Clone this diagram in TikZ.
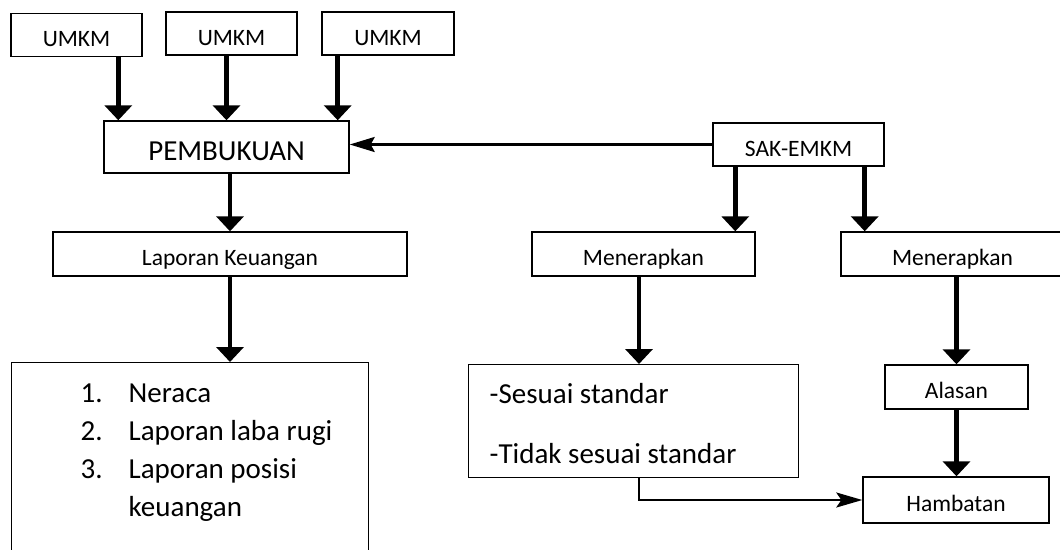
\documentclass[tikz,border=0pt]{standalone}
\usepackage{fontspec}
\setmainfont{Carlito}
\usetikzlibrary{arrows.meta}
\newcommand{\fkecil}{\fontsize{23.5pt}{28pt}\selectfont}
\newcommand{\fbesar}{\fontsize{29pt}{38pt}\selectfont}
\tikzset{
  kotak/.style={draw, line width=1.4pt, inner sep=0pt, font=\fkecil, text height=33pt, text depth=11pt},
  umkm/.style={kotak, minimum width=131pt, text depth=10pt},
  terap/.style={kotak, minimum width=223pt},
  panah/.style={-{Triangle[width=27pt,length=15pt]}, line width=4.5pt},
  panahtipis/.style={-{Stealth[width=15pt,length=25pt,inset=4pt]}, line width=2.6pt},
  panahbawah/.style={-{Stealth[width=15pt,length=26pt,inset=5pt]}, line width=2pt}
}
\begin{document}
\begin{tikzpicture}[x=1pt, y=-1pt]
\path[use as bounding box, clip] (0,0) rectangle (1060,549);

\node[umkm] (umkmA) at (76.5,35) {UMKM};
\node[umkm] (umkmB) at (231.5,33.5) {UMKM};
\node[umkm, minimum width=132pt] (umkmC) at (388,33.5) {UMKM};
\node[kotak, font=\fbesar, minimum width=245pt, text height=39pt, text depth=13pt]
  (pembukuan) at (226.5,147) {PEMBUKUAN};
\node[kotak, minimum width=171pt, text depth=10pt] (sak) at (798.5,144.5) {SAK-EMKM};

\node[kotak, minimum width=354pt] (lapkeu) at (230,254) {Laporan Keuangan};
\node[terap] (terap1) at (643.5,254) {Menerapkan};
\node[terap] (terap2) at (952.5,254) {Menerapkan};

\node[kotak, anchor=north west, font=\fbesar, text height=40pt, text depth=200pt] (daftar) at (11,362)
  {\begin{tabular}[t]{@{\hspace*{69pt}}p{48pt}@{}p{240pt}@{}}
   1. & Neraca\\
   2. & Laporan laba rugi\\
   3. & Laporan posisi\\
      & keuangan
   \end{tabular}};
\node[kotak, anchor=north west, font=\fbesar, text height=39pt, text depth=74pt] (sesuai) at (468,364)
  {\begin{tabular}[t]{@{\hspace*{21pt}}p{309pt}@{}}
   -Sesuai standar\\[22pt]
   -Tidak sesuai standar
   \end{tabular}};
\node[kotak, minimum width=143pt] (alasan) at (956.5,387) {Alasan};
\node[kotak, minimum width=186pt, text height=34pt, text depth=12pt] (hambatan) at (956,500) {Hambatan};

% titik masuk panah yang tidak di tengah kotak
\coordinate (masuk1) at ([xshift=15pt]pembukuan.north west);
\coordinate (masuk3) at ([xshift=-12pt]pembukuan.north east);
\coordinate (sakkiri) at ([xshift=23pt]sak.south west);
\coordinate (sakkanan) at ([xshift=-20pt]sak.south east);
\coordinate (turun) at ([xshift=-4.5pt]terap1.south);

\draw[panah] (masuk1 |- umkmA.south) -- (masuk1);
\draw[panah] (pembukuan.north |- umkmB.south) -- (pembukuan.north);
\draw[panah] (masuk3 |- umkmC.south) -- (masuk3);
\draw[panahtipis] (sak.west) -- (sak.west -| pembukuan.east);
\draw[panah] (pembukuan.south -| lapkeu.north) -- (lapkeu.north);
\draw[panah] (lapkeu.south) -- (lapkeu.south |- daftar.north);
\draw[panah] (sakkiri) -- (sakkiri |- terap1.north);
\draw[panah] (sakkanan) -- (sakkanan |- terap2.north);
\draw[panah] (turun) -- (turun |- sesuai.north);
\draw[panah] (terap2.south -| alasan.north) -- (alasan.north);
\draw[panah] (alasan.south) -- (alasan.south |- hambatan.north);
\draw[panahbawah] (turun |- sesuai.south) |- (hambatan.west);
\end{tikzpicture}
\end{document}
